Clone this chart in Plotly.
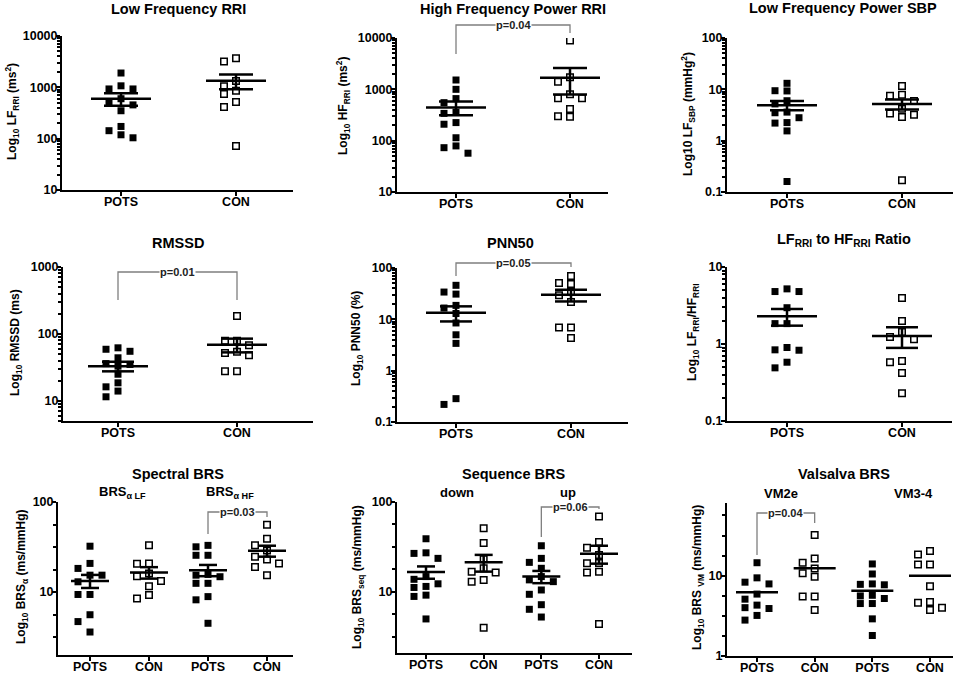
import plotly.graph_objects as go
import math

# ---------------- data ----------------
cats_two = ["POTS", "CON"]
cats_four = ["POTS", "CON", "POTS", "CON"]

lf_rri_pots = [1900, 1070, 930, 930, 600, 527, 455, 350, 173, 143, 119, 104]
lf_rri_con = [3700, 3180, 1330, 1045, 860, 740, 520, 415, 72]
lf_rri_mean = [600, 1345]
lf_rri_sem = [163, 430]

hf_rri_pots = [1520, 1000, 660, 550, 357, 340, 225, 209, 114, 79, 73, 57]
hf_rri_con = [8900, 1710, 1410, 800, 670, 670, 415, 293, 300]
hf_rri_mean = [445, 1690]
hf_rri_sem = [134, 900]

lf_sbp_pots = [13.1, 9.4, 9.3, 6.0, 5.2, 3.6, 3.5, 2.8, 2.25, 2.2, 1.55, 0.16]
lf_sbp_con = [11.6, 7.8, 7.5, 5.9, 4.2, 3.4, 3.2, 2.9, 0.17]
lf_sbp_mean = [4.9, 5.2]
lf_sbp_sem = [1.0, 1.15]

rmssd_pots = [62, 59, 55, 44, 36, 35, 33, 25, 18.6, 16.2, 14, 11.5]
rmssd_con = [186, 79, 79, 68, 54, 52, 48, 27.7, 27.7]
rmssd_mean = [33, 69]
rmssd_sem = [5.4, 16]

pnn50_pots = [46, 34, 31, 18.7, 16.6, 13, 8.5, 5.0, 3.4, 0.285, 0.22]
pnn50_con = [70, 51, 49, 35, 29.5, 21.7, 6.9, 6.9, 4.35]
pnn50_mean = [13.5, 30]
pnn50_sem = [4.4, 7.7]

ratio_pots = [5.2, 4.8, 4.8, 2.96, 1.84, 1.84, 0.9, 0.84, 0.83, 0.58, 0.49]
ratio_con = [3.96, 1.99, 1.43, 1.23, 1.15, 0.6, 0.58, 0.42, 0.23]
ratio_mean = [2.29, 1.27]
ratio_sem = [0.56, 0.38]

brs_lf_pots = [32.3, 20.8, 18.3, 15.4, 15.4, 13, 9.4, 9.4, 5.6, 4.7, 3.6]
brs_lf_con = [33, 20.8, 20.6, 16.1, 15, 13.3, 11.6, 9.3, 8.5]
brs_hf_pots = [33, 31.8, 25.6, 25.6, 15.7, 15.4, 14.8, 12.5, 12.5, 8.9, 8.2, 4.5]
brs_hf_con = [56, 39, 33, 29, 24.6, 23, 20.8, 19, 15.4]
brs_mean = [13.3, 16.5, 17.5, 28.7]
brs_sem = [2.2, 2.4, 2.5, 4.0]

seq_down_pots = [39, 27.2, 26.8, 23.6, 14.8, 13.8, 12.3, 11.5, 11.2, 9.2, 8.9, 5.0]
seq_down_con = [51, 35, 23, 18.3, 16.8, 16.4, 13.6, 13, 4.0]
seq_up_pots = [32.6, 23.6, 21.3, 18.3, 14.8, 13.6, 13, 10.5, 9.4, 7.2, 6.4, 5.25]
seq_up_con = [69, 36, 31, 25.7, 21, 20.8, 16.8, 16.4, 4.4]
seq_mean = [16.6, 21.3, 14.8, 26.6]
seq_sem = [2.6, 4.5, 2.3, 6.0]

vm2e_pots = [14.5, 9.4, 8.3, 7.9, 5.9, 5.1, 4.3, 4.0, 3.9, 3.2, 2.8]
vm2e_con = [32, 16.4, 14.5, 12.3, 10.7, 9.7, 5.5, 5.5, 3.74]
vm34_pots = [14, 10.5, 7.9, 7.8, 7.7, 5.7, 5.6, 5.2, 4.5, 4.5, 2.9, 1.8]
vm34_con = [20.3, 18.4, 13.8, 13.8, 7.4, 4.7, 4.6, 4.0, 3.74]
vm_mean = [6.2, 12.4, 6.5, 10.0]

# ---------------- layout helpers ----------------
W, H = 960, 674
FONT = "Liberation Sans, Arial, sans-serif"


def px(x):
    return x / W


def py(y):
    return 1 - y / H


def minor_dec(lo, hi):
    vals = []
    for d in range(int(math.floor(lo)) - 1, int(math.ceil(hi)) + 1):
        for m in range(2, 10):
            v = m * 10 ** d
            if lo <= math.log10(v) <= hi:
                vals.append(v)
    return vals


def minor_quarter(lo, hi):
    vals = []
    for k in range(int(math.floor(lo * 4)) - 1, int(math.ceil(hi * 4)) + 1):
        if k % 4 == 0:
            continue
        e = k / 4
        if lo <= e <= hi:
            vals.append(10 ** e)
    return vals


panels = [
    dict(series=[lf_rri_pots, lf_rri_con], means=lf_rri_mean, sems=lf_rri_sem, cats=cats_two,
         box=(62, 293, 36, 190), cpx=(121, 236), yr=(1, 4),
         yt=[10, 100, 1000, 10000], ytt=["10", "100", "1000", "10000"], minor="dec",
         title="Low Frequency RRI", tpos=(178, 9),
         ylab="Log<sub>10</sub> LF<sub>RRI</sub> (ms<sup>2</sup>)", lpos=(12, 112),
         mhw=30, chw=17, brackets=[], subs=[]),
    dict(series=[hf_rri_pots, hf_rri_con], means=hf_rri_mean, sems=hf_rri_sem, cats=cats_two,
         box=(397, 608, 38, 192), cpx=(456, 570), yr=(1, 4),
         yt=[10, 100, 1000, 10000], ytt=["10", "100", "1000", "10000"], minor="dec",
         title="High Frequency Power RRI", tpos=(513, 9),
         ylab="Log<sub>10</sub> HF<sub>RRI</sub> (ms<sup>2</sup>)", lpos=(343, 106),
         mhw=30, chw=17, brackets=[dict(i=0, j=1, text="p=0.04", yl=25, yd=(54, 33))], subs=[]),
    dict(series=[lf_sbp_pots, lf_sbp_con], means=lf_sbp_mean, sems=lf_sbp_sem, cats=cats_two,
         box=(727, 953, 38, 192), cpx=(787, 902), yr=(-1, 2),
         yt=[0.1, 1, 10, 100], ytt=["0.1", "1", "10", "100"], minor="dec",
         title="Low Frequency Power SBP", tpos=(843, 8),
         ylab="Log10 LF<sub>SBP</sub> (mmHg<sup>2</sup>)", lpos=(688, 114),
         mhw=30, chw=17, brackets=[], subs=[]),
    dict(series=[rmssd_pots, rmssd_con], means=rmssd_mean, sems=rmssd_sem, cats=cats_two,
         box=(63, 313, 267, 421), cpx=(118, 237), yr=(math.log10(5), 3),
         yt=[10, 100, 1000], ytt=["10", "100", "1000"], minor="dec",
         title="RMSSD", tpos=(178, 243),
         ylab="Log<sub>10</sub> RMSSD (ms)", lpos=(16, 343),
         mhw=30, chw=16, brackets=[dict(i=0, j=1, text="p=0.01", yl=272, yd=(300, 300))], subs=[]),
    dict(series=[pnn50_pots, pnn50_con], means=pnn50_mean, sems=pnn50_sem, cats=cats_two,
         box=(397, 628, 268, 422), cpx=(456, 571), yr=(-1, 2),
         yt=[0.1, 1, 10, 100], ytt=["0.1", "1", "10", "100"], minor="dec",
         title="PNN50", tpos=(510, 243),
         ylab="Log<sub>10</sub> PNN50 (%)", lpos=(357, 339),
         mhw=30, chw=16, brackets=[dict(i=0, j=1, text="p=0.05", yl=263, yd=(276, 267))], subs=[]),
    dict(series=[ratio_pots, ratio_con], means=ratio_mean, sems=ratio_sem, cats=cats_two,
         box=(727, 952, 267, 421), cpx=(787, 902), yr=(-1, 1),
         yt=[0.1, 1, 10], ytt=["0.1", "1", "10"], minor="dec",
         title="LF<sub>RRI</sub> to HF<sub>RRI</sub> Ratio", tpos=(844, 240),
         ylab="Log<sub>10</sub> LF<sub>RRI</sub>/HF<sub>RRI</sub>", lpos=(693, 332),
         mhw=30, chw=16, brackets=[], subs=[]),
    dict(series=[brs_lf_pots, brs_lf_con, brs_hf_pots, brs_hf_con], means=brs_mean, sems=brs_sem,
         cats=cats_four, box=(58, 293, 502, 655), cpx=(90, 267), yr=(math.log10(2), 2),
         yt=[10, 100], ytt=["10", "100"], minor="quarter",
         title="Spectral BRS", tpos=(178, 474),
         ylab="Log<sub>10</sub> BRS<sub>α</sub> (ms/mmHg)", lpos=(22, 577),
         mhw=19, chw=9, brackets=[dict(i=2, j=3, text="p=0.03", yl=512, yd=(534, 517))],
         subs=[("BRS<sub>α LF</sub>", 123, 492), ("BRS<sub>α HF</sub>", 230, 492)]),
    dict(series=[seq_down_pots, seq_down_con, seq_up_pots, seq_up_con], means=seq_mean, sems=seq_sem,
         cats=cats_four, box=(397, 632, 502, 653), cpx=(426, 599), yr=(0.32, 2),
         yt=[10, 100], ytt=["10", "100"], minor="quarter",
         title="Sequence BRS", tpos=(513, 474),
         ylab="Log<sub>10</sub> BRS<sub>seq</sub> (ms/mmHg)", lpos=(358, 577),
         mhw=19, chw=9, brackets=[dict(i=2, j=3, text="p=0.06", yl=507, yd=(537, 509))],
         subs=[("down", 457, 492), ("up", 568, 492)]),
    dict(series=[vm2e_pots, vm2e_con, vm34_pots, vm34_con], means=vm_mean, sems=None,
         cats=cats_four, box=(727, 953, 503, 656), cpx=(757, 930), yr=(0, 1.905),
         yt=[1, 10], ytt=["1", "10"], minor="quarter",
         title="Valsalva BRS", tpos=(844, 474),
         ylab="Log<sub>10</sub> BRS <sub>VM</sub> (ms/mmHg)", lpos=(698, 578),
         mhw=21, chw=0, brackets=[dict(i=0, j=1, text="p=0.04", yl=513, yd=(555, 523))],
         subs=[("VM2e", 781, 493), ("VM3-4", 913, 493)]),
]

LANE_PX = 12.0
MARK = 7
OVERLAP_PX = 7.5

fig = go.Figure()
layout = dict(
    width=W, height=H, margin=dict(l=0, r=0, t=0, b=0, pad=0, autoexpand=False),
    paper_bgcolor="white", plot_bgcolor="white", showlegend=False,
    font=dict(family=FONT, color="black"),
)
shapes = []
annotations = []

for k, p in enumerate(panels):
    n = len(p["cats"])
    x0, x1, y0, y1 = p["box"]
    c0, cN = p["cpx"]
    unit = (cN - c0) / (n - 1)
    r0 = -(c0 - x0) / unit
    r1 = (n - 1) + (x1 - cN) / unit
    ylo, yhi = p["yr"]
    ppd = (y1 - y0) / (yhi - ylo)  # pixels per decade

    sfx = "" if k == 0 else str(k + 1)
    xa, ya = "x" + sfx, "y" + sfx

    # scatter points with beeswarm-like lanes
    for i, vals in enumerate(p["series"]):
        order = sorted(vals, reverse=True)
        placed = []  # (lane, ypix)
        xs, ys = [], []
        for v in order:
            ypix = math.log10(v) * ppd
            for lane in [0, -1, 1, -2, 2]:
                if all(not (l == lane and abs(yy - ypix) < OVERLAP_PX) for l, yy in placed):
                    break
            placed.append((lane, ypix))
            xs.append(i + lane * LANE_PX / unit)
            ys.append(v)
        filled = (i % 2 == 0)
        fig.add_trace(go.Scatter(
            x=xs, y=ys, mode="markers", xaxis=xa, yaxis=ya, hoverinfo="skip",
            marker=dict(symbol="square" if filled else "square-open", size=MARK if filled else MARK - 0.5,
                        color="black", line=dict(width=0 if filled else 1.5, color="black")),
        ))

    # mean and SEM lines
    lx, ly = [], []
    mh = p["mhw"] / unit
    ch = p["chw"] / unit
    for i, m in enumerate(p["means"]):
        lx += [i - mh, i + mh, None]
        ly += [m, m, None]
        if p["sems"] is not None:
            s = p["sems"][i]
            lx += [i - ch, i + ch, None, i - ch, i + ch, None, i, i, None]
            ly += [m + s, m + s, None, m - s, m - s, None, m + s, m - s, None]
    fig.add_trace(go.Scatter(x=lx, y=ly, mode="lines", xaxis=xa, yaxis=ya, hoverinfo="skip",
                             line=dict(color="black", width=2.5)))

    minor_vals = minor_dec(ylo, yhi) if p["minor"] == "dec" else minor_quarter(ylo, yhi)
    layout["xaxis" + sfx] = dict(
        domain=[px(x0), px(x1)], anchor=ya, range=[r0, r1], type="linear", automargin=False,
        tickmode="array", tickvals=list(range(n)), ticktext=p["cats"],
        showline=True, linecolor="black", linewidth=2, ticks="outside", ticklen=4, tickwidth=2,
        tickcolor="black", showgrid=False, zeroline=False, ticklabelstandoff=-5,
        tickfont=dict(family=FONT, size=12.5, color="black", weight="bold"),
    )
    layout["yaxis" + sfx] = dict(
        domain=[py(y1), py(y0)], anchor=xa, range=[ylo, yhi], type="log", automargin=False,
        tickmode="array", tickvals=p["yt"], ticktext=p["ytt"],
        showline=True, linecolor="black", linewidth=2, ticks="outside", ticklen=4, tickwidth=2,
        tickcolor="black", showgrid=False, zeroline=False, ticklabelstandoff=-4,
        tickfont=dict(family=FONT, size=12.5, color="black", weight="bold"),
        minor=dict(tickmode="array", tickvals=minor_vals, ticks="outside", ticklen=3,
                   tickwidth=1.5, tickcolor="black", showgrid=False),
    )

    # titles / labels
    annotations.append(dict(text="<b>%s</b>" % p["title"], x=px(p["tpos"][0]), y=py(p["tpos"][1]),
                            xref="paper", yref="paper", showarrow=False, xanchor="center", yanchor="middle",
                            font=dict(family=FONT, size=14.5, color="black")))
    annotations.append(dict(text="<b>%s</b>" % p["ylab"], x=px(p["lpos"][0]), y=py(p["lpos"][1]),
                            xref="paper", yref="paper", showarrow=False, xanchor="center", yanchor="middle",
                            textangle=-90, font=dict(family=FONT, size=12, color="black")))
    for txt, sx, sy in p["subs"]:
        annotations.append(dict(text="<b>%s</b>" % txt, x=px(sx), y=py(sy), xref="paper", yref="paper",
                                showarrow=False, xanchor="center", yanchor="middle",
                                font=dict(family=FONT, size=13, color="black")))

    # significance brackets
    for b in p["brackets"]:
        bx1 = x0 + (b["i"] - r0) * unit
        bx2 = x0 + (b["j"] - r0) * unit
        yl = b["yl"]
        d1, d2 = b["yd"]
        path = "M %f,%f L %f,%f L %f,%f L %f,%f" % (px(bx1), py(d1), px(bx1), py(yl),
                                                  px(bx2), py(yl), px(bx2), py(d2))
        shapes.append(dict(type="path", path=path, xref="paper", yref="paper",
                           line=dict(color="#7f7f7f", width=1.3)))
        annotations.append(dict(text="<b>%s</b>" % b["text"], x=px((bx1 + bx2) / 2), y=py(yl),
                                xref="paper", yref="paper", showarrow=False, xanchor="center",
                                yanchor="middle", bgcolor="white", borderpad=0,
                                font=dict(family=FONT, size=11, color="#222222")))

layout["shapes"] = shapes
layout["annotations"] = annotations
fig.update_layout(**layout)
fig.write_html(
    "out.html",
    config={"displayModeBar": False},
    post_script="document.body.style.margin='0';document.body.style.overflow='hidden';",
)
